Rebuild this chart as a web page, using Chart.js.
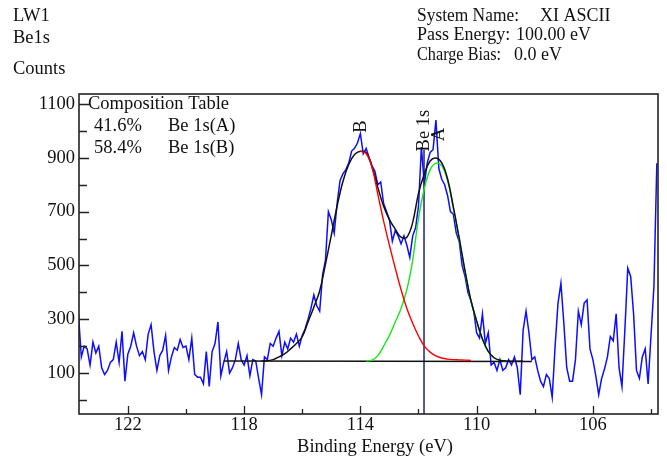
<!DOCTYPE html>
<html>
<head>
<meta charset="utf-8">
<title>LW1 Be1s</title>
<script src="https://cdn.jsdelivr.net/npm/chart.js@4.4.1/dist/chart.umd.min.js"></script>
<style>
  html, body { margin: 0; padding: 0; background: #fff; }
  #wrap { width: 667px; height: 458px; }
</style>
</head>
<body>
<div id="wrap"><canvas id="chart" width="667" height="458"></canvas></div>
<script>
/* ---------------------------------------------------------------
   Be 1s spectrum (LW1) - raw counts + fitted components
   --------------------------------------------------------------- */

// raw spectrum, every 0.1 eV starting at 123.7 eV
const BLUE_START = 123.7;
const BLUE_STEP = 0.1;
const BLUE_COUNTS = [
  320, 160, 200, 190, 130, 215, 175, 200, 120, 95,
  110, 140, 150, 215, 140, 255, 70, 170, 200, 250,
  200, 165, 180, 150, 245, 280, 180, 110, 165, 185,
  240, 110, 160, 195, 185, 225, 195, 200, 150, 230,
  95, 85, 85, 60, 180, 50, 180, 210, 290, 90,
  140, 180, 100, 120, 150, 210, 150, 130, 165, 90,
  150, 145, 80, 20, 160, 150, 210, 200, 230, 255,
  165, 215, 190, 230, 215, 245, 200, 240, 265, 300,
  340, 390, 350, 330, 465, 520, 700, 670, 620, 730,
  815, 840, 856, 880, 925, 935, 955, 990, 915, 935,
  900, 870, 850, 800, 810, 730, 700, 670, 590, 630,
  610, 580, 610, 575, 530, 610, 640, 720, 940, 800,
  880, 920, 930, 1040, 860, 820, 800, 760, 700, 690,
  620, 590, 500, 460, 400, 370, 330, 250, 230, 320,
  210, 250, 130, 140, 110, 150, 110, 120, 150, 130,
  160, 120, 20, 260, 330, 250, 150, 160, 110, 70,
  50, 95, 80, 10, 200, 360, 434, 286, 120, 70,
  70, 150, 330, 280, 360, 372, 190, 150, 90, 20,
  80, 115, 160, 236, 220, 320, 120, 50, 260, 490,
  459, 320, 110, 80, 160, 190, 60, 240, 422, 880,
];

// fitted curves on a common energy grid
const FIT_E = [
  117.4, 117.2, 117.0, 116.8, 116.6, 116.4, 116.2, 116.0, 115.8, 115.6,
  115.4, 115.2, 115.0, 114.8, 114.6, 114.4, 114.2, 114.0, 113.8, 113.6,
  113.4, 113.2, 113.0, 112.8, 112.6, 112.4, 112.2, 112.0, 111.8, 111.6,
  111.4, 111.2, 111.0, 110.8, 110.6, 110.4, 110.2, 110.0, 109.8, 109.6,
  109.4, 109.2, 109.0, 108.8, 108.6, 108.4,
];
const ENVELOPE = [
  145, 146, 150, 160, 172, 190, 210, 235, 290, 345,
  405, 505, 612, 720, 812, 875, 912, 924, 919, 868,
  790, 720, 670, 635, 605, 605, 660, 768, 840, 888,
  899, 881, 822, 717, 602, 481, 372, 294, 227, 181,
  157, 148, 145, 144, 144, 144,
];
const PEAK_B = [
  null, null, null, null, null, null, null, null, null, null,
  null, null, null, null, null, null, null, 924, 916, 865,
  765, 665, 575, 490, 410, 340, 285, 238, 200, 178,
  164, 156, 152, 150, 149, 148, 147, null, null, null,
  null, null, null, null, null, null,
];
const PEAK_A = [
  null, null, null, null, null, null, null, null, null, null,
  null, null, null, null, null, null, null, null, 145, 148,
  165, 200, 240, 290, 340, 410, 520, 675, 785, 855,
  880, 870, 815, 712, 598, 478, 370, 292, 226, 180,
  157, 148, 145, null, null, null,
];

// linear background and the Be 1s marker
const BASE_E = [118.7, 108.1];
const BASE_Y = [145, 143];
const MARKER_E = 111.81;
const MARKER_Y = [-52, 930];

// peak labels
const LABEL_TEXT = ["B", "A", "Be 1s"];
const LABEL_E = [113.98, 111.30, 111.81];
const LABEL_Y = [1016, 986, 1001];

// composition table
const COMP_PCT = ["41.6%", "58.4%"];
const COMP_NAME = ["Be 1s(A)", "Be 1s(B)"];

// axes
const X_TICKS = [122, 120, 118, 116, 114, 112, 110, 108, 106, 104];
const X_LABELED = [122, 118, 114, 110, 106];
const Y_TICKS = [0, 100, 200, 300, 400, 500, 600, 700, 800, 900, 1000, 1100];
const Y_LABELED = [100, 300, 500, 700, 900, 1100];

const SERIF = '"Liberation Serif", "Times New Roman", serif';

/* --------------------------------------------------------------- */
const pts = (xs, ys) => xs.map((x, i) => ({ x, y: ys[i] }));
const bluePoints = BLUE_COUNTS.map((c, i) => ({ x: +(BLUE_START - i * BLUE_STEP).toFixed(2), y: c }));

// frame + tick marks pointing into the plot
const axisFrame = {
  id: "axisFrame",
  afterDraw(chart) {
    const { ctx, chartArea: a, scales: { x, y } } = chart;
    ctx.save();
    ctx.strokeStyle = "#222";
    ctx.lineWidth = 1.6;
    ctx.strokeRect(a.left, a.top, a.right - a.left, a.bottom - a.top);
    ctx.lineWidth = 1.3;
    ctx.beginPath();
    x.ticks.forEach((t) => {
      const px = Math.round(x.getPixelForValue(t.value)) + 0.5;
      const len = X_LABELED.includes(t.value) ? 8 : 5;
      ctx.moveTo(px, a.bottom);
      ctx.lineTo(px, a.bottom - len);
    });
    y.ticks.forEach((t) => {
      const py = Math.round(y.getPixelForValue(t.value)) + 0.5;
      const len = Y_LABELED.includes(t.value) ? 10 : 8;
      ctx.moveTo(a.left, py);
      ctx.lineTo(a.left + len, py);
    });
    ctx.stroke();
    ctx.restore();
  },
};

// header, composition table, axis title, peak labels
const texts = {
  id: "texts",
  afterDraw(chart) {
    const { ctx, scales: { x, y } } = chart;
    ctx.save();
    ctx.fillStyle = "#111";
    ctx.font = "18.5px " + SERIF;
    ctx.textBaseline = "alphabetic";
    ctx.textAlign = "left";

    ctx.fillText("LW1", 13, 21);
    ctx.fillText("Be1s", 13, 43);
    ctx.fillText("Counts", 13, 74, 59);

    // right-hand info block: labels are set a bit condensed, as in the print
    ctx.font = "18px " + SERIF;
    ctx.fillText("System Name:", 417, 21, 102);
    ctx.fillText("XI ASCII", 540, 21);
    ctx.fillText("Pass Energy:", 417, 40, 95);
    ctx.fillText("100.00 eV", 516, 40);
    ctx.fillText("Charge Bias:", 417, 60, 84);
    ctx.fillText("0.0 eV", 514, 60);

    ctx.font = "18.5px " + SERIF;
    ctx.fillText("Composition Table", 88, 109);
    COMP_PCT.forEach((p, i) => {
      ctx.fillText(p, 94, 131 + i * 22);
      ctx.fillText(COMP_NAME[i], 168, 131 + i * 22);
    });

    ctx.textAlign = "center";
    ctx.fillText("Binding Energy (eV)", 375, 452);

    ctx.textBaseline = "middle";
    LABEL_TEXT.forEach((s, i) => {
      ctx.save();
      ctx.translate(x.getPixelForValue(LABEL_E[i]), y.getPixelForValue(LABEL_Y[i]));
      ctx.rotate(-Math.PI / 2);
      ctx.fillText(s, 0, 0);
      ctx.restore();
    });
    ctx.restore();
  },
};

const line = (data, color, width, extra = {}) => ({
  data,
  borderColor: color,
  borderWidth: width,
  pointRadius: 0,
  fill: false,
  spanGaps: false,
  ...extra,
});

new Chart(document.getElementById("chart"), {
  type: "line",
  data: {
    datasets: [
      line(pts(FIT_E, PEAK_B), "#ff0000", 1.4, { tension: 0.4 }),
      line(pts(FIT_E, ENVELOPE), "#111111", 1.5, { tension: 0.4 }),
      line(pts(FIT_E, PEAK_A), "#19e619", 1.4, { tension: 0.4 }),
      line(pts(BASE_E, BASE_Y), "#111111", 1.5),
      line(pts([MARKER_E, MARKER_E], MARKER_Y), "#23236e", 1.5),
      line(bluePoints, "#0d0dff", 1.5),
    ],
  },
  options: {
    responsive: false,
    animation: false,
    events: [],
    layout: { padding: { top: 94, right: 9, left: 0, bottom: 0 } },
    plugins: { legend: { display: false }, tooltip: { enabled: false } },
    scales: {
      x: {
        type: "linear",
        reverse: true,
        min: 103.76,
        max: 123.68,
        grid: { display: false, drawTicks: false },
        border: { display: false },
        afterBuildTicks: (scale) => { scale.ticks = X_TICKS.map((v) => ({ value: v })); },
        afterFit: (scale) => { scale.height = 44; },
        ticks: {
          autoSkip: false,
          maxRotation: 0,
          padding: 0,
          color: "#111",
          font: { family: SERIF, size: 18.5 },
          callback: (v) => (X_LABELED.includes(v) ? String(v) : ""),
        },
      },
      y: {
        min: -52,
        max: 1137,
        grid: { display: false, drawTicks: false },
        border: { display: false },
        afterBuildTicks: (scale) => { scale.ticks = Y_TICKS.map((v) => ({ value: v })); },
        afterFit: (scale) => { scale.width = 79; },
        ticks: {
          autoSkip: false,
          padding: 4,
          color: "#111",
          font: { family: SERIF, size: 18.5 },
          callback: (v) => (Y_LABELED.includes(v) ? String(v) : ""),
        },
      },
    },
  },
  plugins: [axisFrame, texts],
});
</script>
</body>
</html>
